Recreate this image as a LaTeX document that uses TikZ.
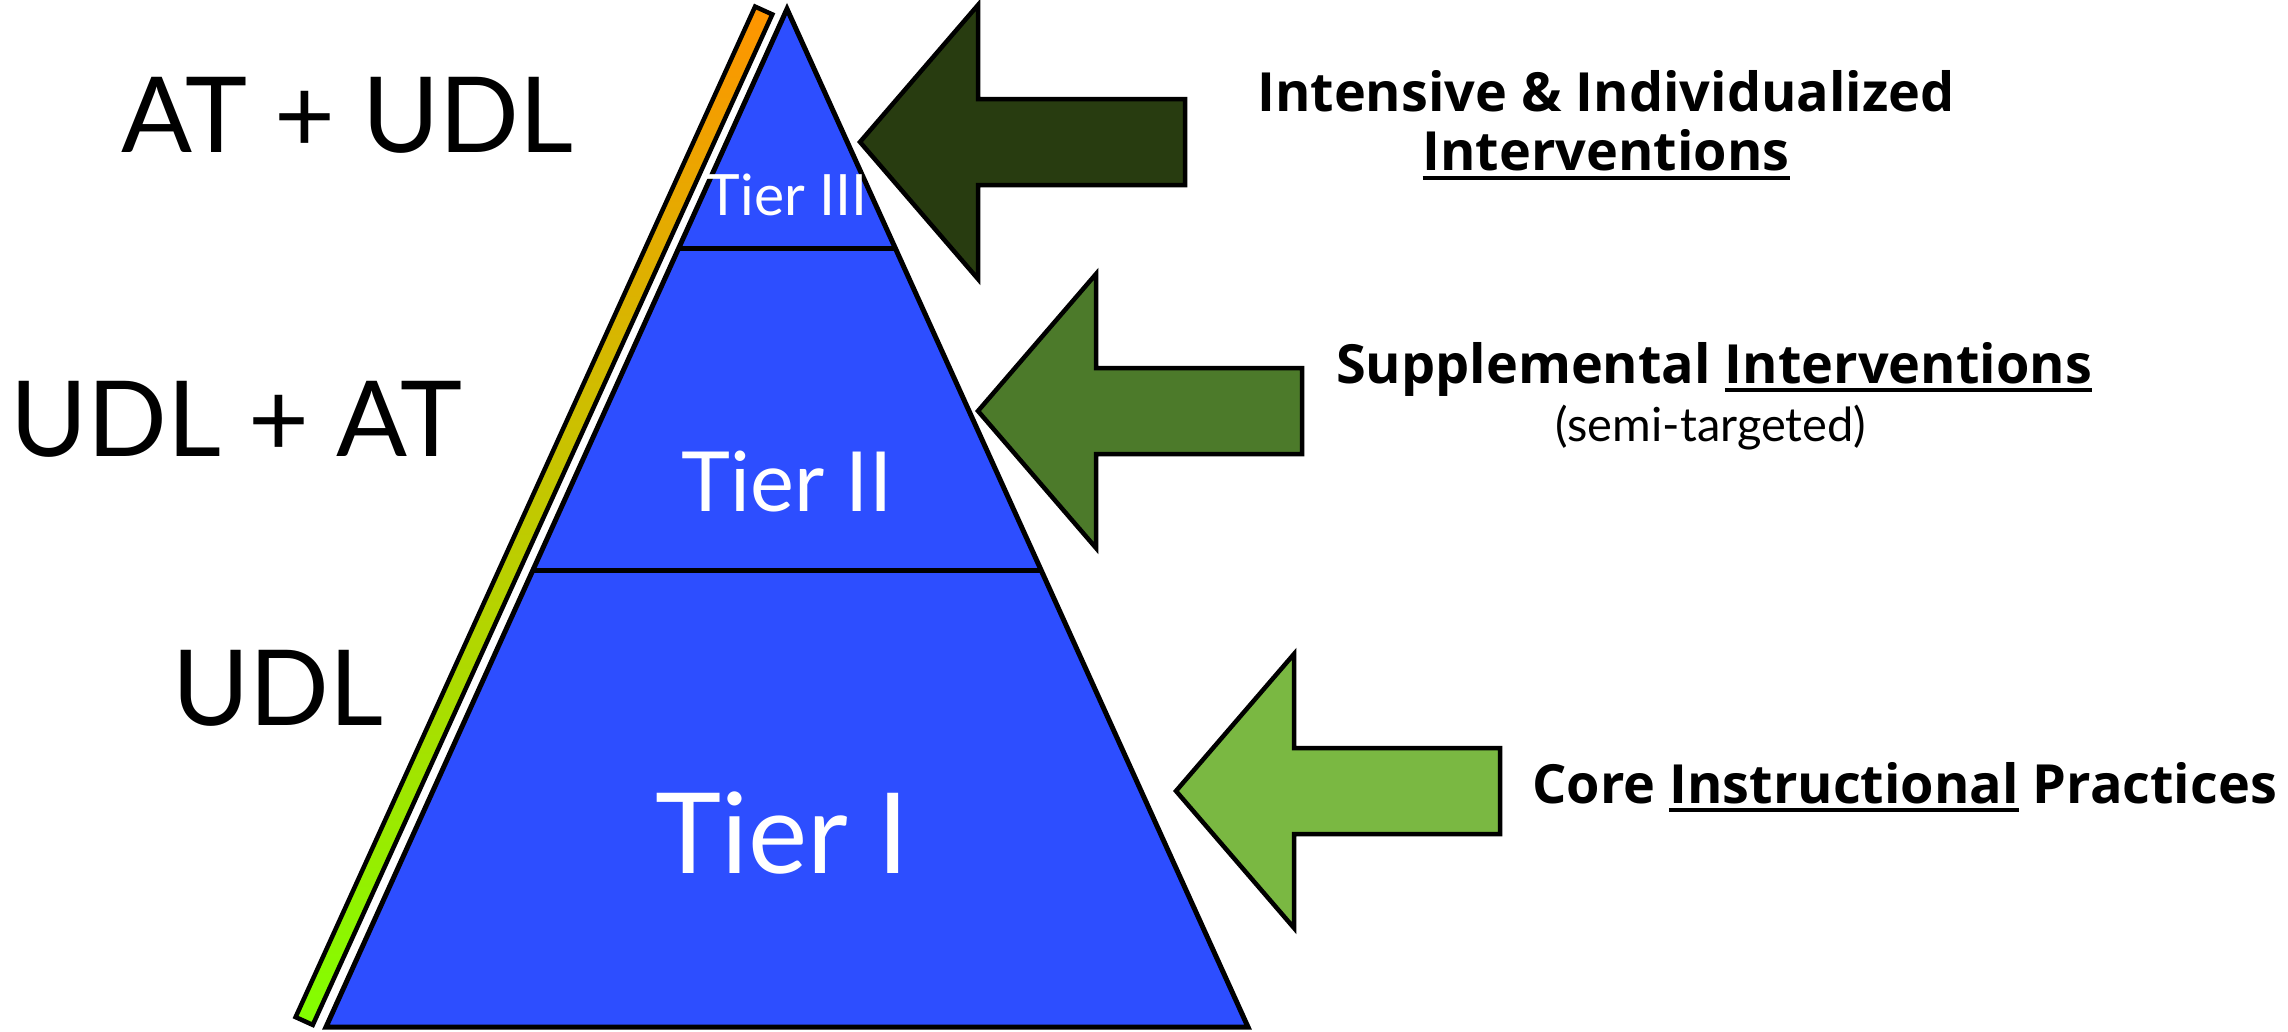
\documentclass[tikz,border=0pt]{standalone}
\usepackage{fontspec}
\setmainfont{Lato}
\newfontfamily\heavyfam{Open Sans}
\usetikzlibrary{calc}
\definecolor{tierblue}{RGB}{45,78,255}
\definecolor{arrowdark}{RGB}{40,60,16}
\definecolor{arrowmid}{RGB}{76,122,42}
\definecolor{arrowlight}{RGB}{122,184,66}
\definecolor{barorange}{RGB}{255,148,0}
\definecolor{baryellow}{RGB}{215,200,0}
\definecolor{bargreen}{RGB}{130,255,0}
\newcommand\myul[1]{\setbox0\hbox{#1}\rlap{\rule[-0.17em]{\wd0}{0.075em}}\box0\relax}
\begin{document}
\begin{tikzpicture}[x=1pt,y=-1pt,
  edge/.style={draw=black,line width=5pt,line join=miter},
  arrowshape/.style={draw=black,line width=4.5pt,line join=miter},
  biglabel/.style={inner sep=0pt,anchor=base west,font=\fontsize{105}{110}\selectfont},
  tierlabel/.style={inner sep=0pt,anchor=base,text=white},
  boldlabel/.style={inner sep=0pt,anchor=base,font=\heavyfam\fontsize{54}{60}\selectfont\bfseries}]
\useasboundingbox (0,0) rectangle (2288,1031);
% gradient bar
\shade[top color=barorange, middle color=baryellow, bottom color=bargreen]
  (755.1,6.6) -- (772.3,14.4) -- (312.8,1024.9) -- (295.6,1017.1) -- cycle;
\draw[edge,line width=4.5pt] (755.1,6.6) -- (772.3,14.4) -- (312.8,1024.9) -- (295.6,1017.1) -- cycle;
% pyramid
\coordinate (A) at (787,9);
\coordinate (L) at (326,1027);
\coordinate (R) at (1248,1027);
\filldraw[fill=tierblue, edge] (A) -- (R) -- (L) -- cycle;
\draw[edge] ($(A)!0.2348!(L)$) -- ($(A)!0.2348!(R)$);
\draw[edge] ($(A)!0.5516!(L)$) -- ($(A)!0.5516!(R)$);
\node[tierlabel,font=\fontsize{57}{60}\selectfont] (t3) at (787,215) {Tier III};
\node[tierlabel,font=\fontsize{83}{90}\selectfont] (t2) at (787,511) {Tier II};
\node[tierlabel,font=\fontsize{112}{120}\selectfont] (t1) at (782,873) {Tier I};
% arrows
\filldraw[fill=arrowdark, arrowshape] (860,142) -- (978,5) -- (978,99) -- (1185,99) -- (1185,185) -- (978,185) -- (978,279) -- cycle;
\filldraw[fill=arrowmid, arrowshape] (978,411) -- (1096,274) -- (1096,368) -- (1302,368) -- (1302,454) -- (1096,454) -- (1096,548) -- cycle;
\filldraw[fill=arrowlight, arrowshape] (1176,791) -- (1294,654) -- (1294,748) -- (1500,748) -- (1500,834) -- (1294,834) -- (1294,928) -- cycle;
% left labels
\node[biglabel] (atudl) at (121.5,152.7) {AT + UDL};
\node[biglabel] (udlat) at (10.4,456) {UDL + AT};
\node[biglabel] (udl) at (172,725) {UDL};
% right labels
\node[boldlabel] (int1) at (1606,111.7) {Intensive \& Individualized};
\node[boldlabel] (int2) at (1606,170.7) {\myul{Interventions}};
\node[boldlabel] (supp) at (1714,383) {Supplemental \myul{Interventions}};
\node[inner sep=0pt,anchor=base,font=\fontsize{47}{50}\selectfont] (semi) at (1711,441) {(semi-targeted)};
\node[boldlabel,anchor=base west] (core) at (1532,803) {Core \myul{Instructional} Practices};
\end{tikzpicture}
\end{document}
